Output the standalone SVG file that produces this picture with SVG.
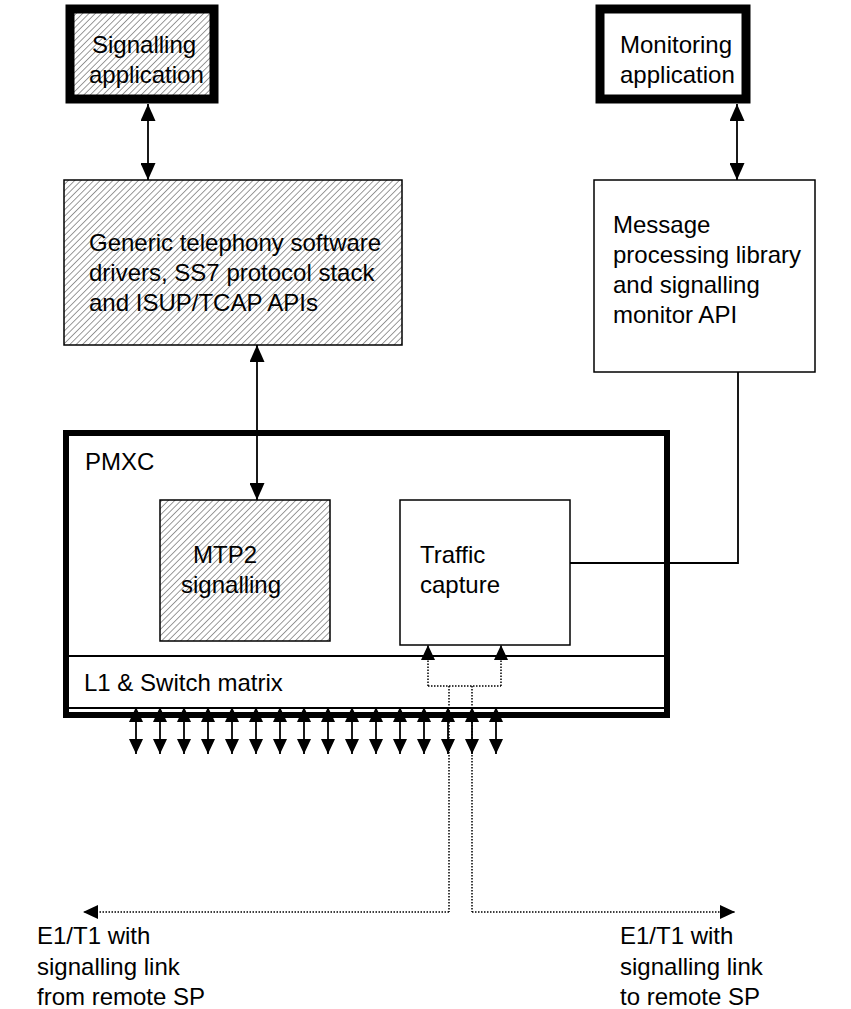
<svg xmlns="http://www.w3.org/2000/svg" width="851" height="1009" viewBox="0 0 851 1009">
<style>
text{font-family:"Liberation Sans",Arial,sans-serif;font-size:24px;fill:#000}
.thin{fill:#fff;stroke:#000;stroke-width:1.5}
.hatch{fill:url(#hatch);stroke:#000;stroke-width:1.5}
.thick{stroke:#000;stroke-width:9}
.conn{stroke:#000;stroke-width:1.8;fill:none}
.dot{stroke:#000;stroke-width:1.5;fill:none;stroke-dasharray:1.5 1.5}
</style>
<defs>
<pattern id="hatch" patternUnits="userSpaceOnUse" width="4.5" height="4.5" patternTransform="rotate(45)">
<rect width="4.5" height="4.5" fill="#fff"/>
<line x1="0" y1="0" x2="0" y2="4.5" stroke="#7a7a7a" stroke-width="1.5"/>
</pattern>
<marker id="ah" viewBox="0 0 12 12" refX="12" refY="6" markerWidth="17" markerHeight="15" markerUnits="userSpaceOnUse" orient="auto-start-reverse" preserveAspectRatio="none">
<path d="M0,0 L12,6 L0,12 Z" fill="#000"/>
</marker>
<marker id="ahs" viewBox="0 0 12 12" refX="12" refY="6" markerWidth="15" markerHeight="14" markerUnits="userSpaceOnUse" orient="auto-start-reverse" preserveAspectRatio="none">
<path d="M0,0 L12,6 L0,12 Z" fill="#000"/>
</marker>
</defs>

<g id="signalling-app">
<rect x="70" y="9" width="144" height="90" class="hatch" style="stroke-width:9"/>
<text x="92" y="53">Signalling</text>
<text x="89" y="83">application</text>
</g>

<g id="monitoring-app">
<rect x="600" y="9" width="146" height="90" fill="#fff" class="thick"/>
<text x="620" y="53">Monitoring</text>
<text x="620" y="83">application</text>
</g>

<g id="generic-stack">
<rect x="64" y="180" width="338" height="165" class="hatch"/>
<text x="89" y="251">Generic telephony software</text>
<text x="89" y="281">drivers, SS7 protocol stack</text>
<text x="89" y="311">and ISUP/TCAP APIs</text>
</g>

<g id="message-lib">
<rect x="594" y="180" width="221" height="192" class="thin"/>
<text x="613" y="233">Message</text>
<text x="613" y="263">processing library</text>
<text x="613" y="293">and signalling</text>
<text x="613" y="323">monitor API</text>
</g>

<g id="pmxc">
<rect x="66" y="433" width="601" height="282" fill="#fff" stroke="#000" stroke-width="6"/>
<text x="85" y="470">PMXC</text>
<line x1="66" y1="656" x2="667" y2="656" class="conn"/>
<line x1="66" y1="708" x2="667" y2="708" class="conn"/>
<text x="84" y="691">L1 &amp; Switch matrix</text>
</g>

<g id="mtp2">
<rect x="160" y="500" width="170" height="141" class="hatch"/>
<text x="193" y="563">MTP2</text>
<text x="181" y="593">signalling</text>
</g>

<g id="traffic-capture">
<rect x="400" y="500" width="170" height="145" class="thin"/>
<text x="420" y="563">Traffic</text>
<text x="420" y="593">capture</text>
</g>

<g id="connectors">
<line x1="148" y1="104" x2="148" y2="180" class="conn" marker-start="url(#ah)" marker-end="url(#ah)"/>
<line x1="737" y1="104" x2="737" y2="180" class="conn" marker-start="url(#ah)" marker-end="url(#ah)"/>
<line x1="257" y1="345" x2="257" y2="500" class="conn" marker-start="url(#ah)" marker-end="url(#ah)"/>
<polyline points="738,372 738,563 570,563" class="conn"/>
<g marker-start="url(#ahs)" marker-end="url(#ahs)">
<line x1="136" y1="707" x2="136" y2="754" class="conn"/>
<line x1="160" y1="707" x2="160" y2="754" class="conn"/>
<line x1="184" y1="707" x2="184" y2="754" class="conn"/>
<line x1="208" y1="707" x2="208" y2="754" class="conn"/>
<line x1="232" y1="707" x2="232" y2="754" class="conn"/>
<line x1="256" y1="707" x2="256" y2="754" class="conn"/>
<line x1="280" y1="707" x2="280" y2="754" class="conn"/>
<line x1="304" y1="707" x2="304" y2="754" class="conn"/>
<line x1="328" y1="707" x2="328" y2="754" class="conn"/>
<line x1="352" y1="707" x2="352" y2="754" class="conn"/>
<line x1="376" y1="707" x2="376" y2="754" class="conn"/>
<line x1="400" y1="707" x2="400" y2="754" class="conn"/>
<line x1="424" y1="707" x2="424" y2="754" class="conn"/>
<line x1="448" y1="707" x2="448" y2="754" class="conn"/>
<line x1="472" y1="707" x2="472" y2="754" class="conn"/>
<line x1="496" y1="707" x2="496" y2="754" class="conn"/>
</g>
<line x1="428" y1="686" x2="428" y2="645" class="dot" marker-end="url(#ahs)"/>
<line x1="501" y1="686" x2="501" y2="645" class="dot" marker-end="url(#ahs)"/>
<line x1="428" y1="686" x2="501" y2="686" class="dot"/>
<line x1="449" y1="686" x2="449" y2="912" class="dot"/>
<line x1="472" y1="686" x2="472" y2="912" class="dot"/>
<line x1="449" y1="912" x2="83" y2="912" class="dot" marker-end="url(#ahs)"/>
<line x1="472" y1="912" x2="735" y2="912" class="dot" marker-end="url(#ahs)"/>
</g>

<g id="labels">
<text x="37" y="944">E1/T1 with</text>
<text x="37" y="975">signalling link</text>
<text x="37" y="1005">from remote SP</text>
<text x="620" y="944">E1/T1 with</text>
<text x="620" y="975">signalling link</text>
<text x="620" y="1005">to remote SP</text>
</g>
</svg>
